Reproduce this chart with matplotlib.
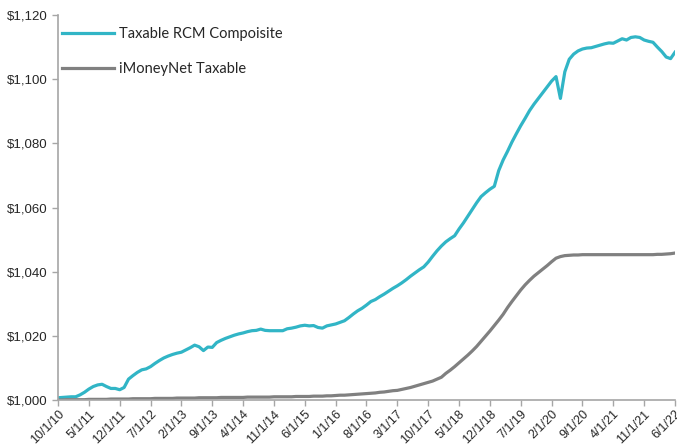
import numpy as np
import matplotlib.pyplot as plt
from matplotlib.ticker import FuncFormatter

# miesieczne wartosci, 10/2010 - 6/2022
rcm = [
    1000.7, 1000.8, 1000.9, 1001.0, 1001.0, 1001.6, 1002.4, 1003.4, 1004.2, 1004.7,
    1004.9, 1004.2, 1003.6, 1003.6, 1003.2, 1003.9, 1006.5, 1007.6, 1008.6, 1009.4,
    1009.7, 1010.4, 1011.4, 1012.3, 1013.1, 1013.7, 1014.2, 1014.6, 1014.9, 1015.6,
    1016.3, 1017.1, 1016.6, 1015.4, 1016.5, 1016.4, 1017.9, 1018.6, 1019.2, 1019.7,
    1020.2, 1020.6, 1020.9, 1021.3, 1021.6, 1021.7, 1022.1, 1021.7, 1021.6, 1021.6,
    1021.6, 1021.6, 1022.2, 1022.4, 1022.7, 1023.1, 1023.3, 1023.1, 1023.2, 1022.6,
    1022.4, 1023.1, 1023.4, 1023.7, 1024.2, 1024.7, 1025.7, 1026.8, 1027.8, 1028.6,
    1029.6, 1030.7, 1031.3, 1032.2, 1033.0, 1033.9, 1034.8, 1035.6, 1036.5, 1037.5,
    1038.6, 1039.6, 1040.6, 1041.5, 1043.0, 1044.8, 1046.5, 1048.0, 1049.3, 1050.3,
    1051.2, 1053.3, 1055.2, 1057.3, 1059.4, 1061.5, 1063.4, 1064.6, 1065.7, 1066.6,
    1071.5, 1074.8, 1077.5, 1080.4, 1083.0, 1085.5, 1087.8, 1090.2, 1092.2, 1094.0,
    1095.8, 1097.6, 1099.4, 1100.8, 1094.0, 1102.3, 1106.2, 1107.8, 1108.8, 1109.4,
    1109.7, 1109.8, 1110.2, 1110.6, 1111.0, 1111.3, 1111.2, 1111.9, 1112.6, 1112.2,
    1113.0, 1113.2, 1113.0, 1112.2, 1111.8, 1111.5, 1110.0, 1108.6, 1106.9, 1106.4,
    1108.4,
]

imoney = [
    1000.0, 1000.0, 1000.1, 1000.1, 1000.1, 1000.1, 1000.1, 1000.2, 1000.2, 1000.2,
    1000.2, 1000.2, 1000.3, 1000.3, 1000.3, 1000.3, 1000.3, 1000.4, 1000.4, 1000.4,
    1000.4, 1000.4, 1000.5, 1000.5, 1000.5, 1000.5, 1000.5, 1000.6, 1000.6, 1000.6,
    1000.6, 1000.6, 1000.7, 1000.7, 1000.7, 1000.7, 1000.7, 1000.8, 1000.8, 1000.8,
    1000.8, 1000.8, 1000.8, 1000.9, 1000.9, 1000.9, 1000.9, 1000.9, 1000.9, 1001.0,
    1001.0, 1001.0, 1001.0, 1001.0, 1001.1, 1001.1, 1001.1, 1001.1, 1001.2, 1001.2,
    1001.2, 1001.3, 1001.3, 1001.4, 1001.5, 1001.5, 1001.6, 1001.7, 1001.8, 1001.9,
    1002.0, 1002.1, 1002.2, 1002.4, 1002.5, 1002.7, 1002.9, 1003.0, 1003.3, 1003.6,
    1003.9, 1004.3, 1004.7, 1005.1, 1005.5, 1005.9, 1006.5, 1007.1, 1008.3, 1009.3,
    1010.4, 1011.6, 1012.8, 1014.0, 1015.3, 1016.7, 1018.3, 1019.9, 1021.5, 1023.2,
    1024.9, 1026.7, 1028.8, 1030.7, 1032.5, 1034.3, 1035.9, 1037.3, 1038.6, 1039.7,
    1040.8, 1041.9, 1043.1, 1044.2, 1044.7, 1045.0, 1045.1, 1045.2, 1045.2, 1045.3,
    1045.3, 1045.3, 1045.3, 1045.3, 1045.3, 1045.3, 1045.3, 1045.3, 1045.3, 1045.3,
    1045.3, 1045.3, 1045.3, 1045.3, 1045.3, 1045.3, 1045.4, 1045.4, 1045.5, 1045.6,
    1045.8,
]

etykiety_x = ['10/1/10', '5/1/11', '12/1/11', '7/1/12', '2/1/13', '9/1/13', '4/1/14',
              '11/1/14', '6/1/15', '1/1/16', '8/1/16', '3/1/17', '10/1/17', '5/1/18',
              '12/1/18', '7/1/19', '2/1/20', '9/1/20', '4/1/21', '11/1/21', '6/1/22']

nazwy = ['Taxable RCM Compoisite', 'iMoneyNet Taxable']
kolory = ['#31B5C6', '#808080']

plt.rcParams['font.family'] = ['Liberation Sans', 'DejaVu Sans']

fig = plt.figure(figsize=(6.77, 4.47), dpi=100)
ax = fig.add_axes([58 / 677, 47 / 447, 617 / 677, 385 / 447])

miesiace = np.arange(len(rcm))
ax.plot(miesiace, rcm, color=kolory[0], lw=2.3, label=nazwy[0], solid_joinstyle='round')
ax.plot(np.arange(len(imoney)), imoney, color=kolory[1], lw=2.3, label=nazwy[1], solid_joinstyle='round')

ax.set_xlim(0, len(rcm) - 1)
ax.set_ylim(1000, 1120)
ax.set_yticks(np.arange(1000, 1121, 20))
ax.yaxis.set_major_formatter(FuncFormatter(lambda v, p: '${:,.0f}'.format(v)))
ax.set_xticks(np.arange(0, len(rcm), 7))
ax.set_xticklabels(etykiety_x, rotation=45, ha='right', rotation_mode='anchor', fontsize=9)

for s in ['top', 'right']:
    ax.spines[s].set_visible(False)
for s in ['left', 'bottom']:
    ax.spines[s].set_color('#A6A6A6')
    ax.spines[s].set_linewidth(1.2)
ax.tick_params(axis='both', colors='#A6A6A6', labelcolor='#262626', length=4, width=1)
ax.tick_params(axis='y', labelsize=9.5)
ax.tick_params(axis='x', pad=2)

leg = ax.legend(loc='upper left', bbox_to_anchor=(0.006, 0.968), frameon=False,
                borderpad=0, borderaxespad=0,
                handlelength=3.6, handletextpad=0.35, labelspacing=1.45,
                prop={'family': ['Lato', 'DejaVu Sans'], 'size': 10.5})
for t in leg.get_texts():
    t.set_color('#262626')

fig.savefig('out.png', dpi=100)
